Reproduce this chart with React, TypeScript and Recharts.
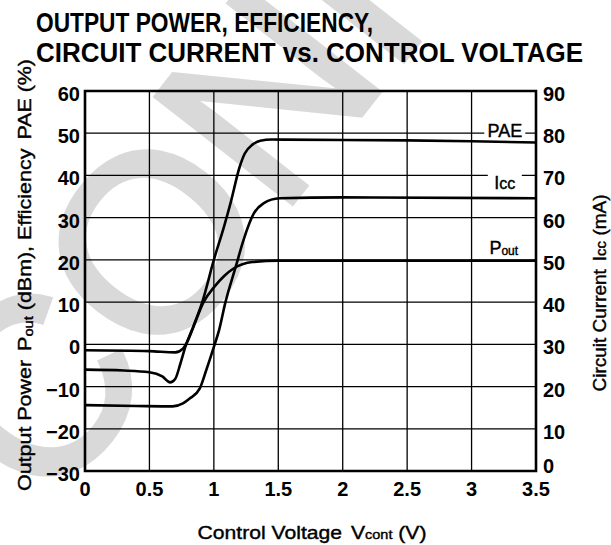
import React from 'react';
import {
  LineChart,
  Line,
  XAxis,
  YAxis,
  CartesianGrid,
  ReferenceArea,
  ReferenceDot,
} from 'recharts';

// control voltage ticks (V) and the two y scales
const voltageTicks = [0, 0.5, 1, 1.5, 2, 2.5, 3, 3.5];
const leftTicks = [-30, -20, -10, 0, 10, 20, 30, 40, 50, 60];
const rightTicks = [0, 10, 20, 30, 40, 50, 60, 70, 80, 90];

// PAE (%)
const paeVcont = [0, 0.3, 0.5, 0.6, 0.66, 0.7, 0.74, 0.78, 0.84, 0.91, 1.0, 1.08, 1.13, 1.2, 1.24, 1.3, 1.36, 1.45, 2.0, 2.5, 3.0, 3.5];
const paeValues = [-6.0, -6.2, -6.6, -7.6, -9.0, -8.2, -4.6, -0.5, 4.2, 10, 20, 28, 33.5, 42, 45.2, 47.3, 48.2, 48.5, 48.4, 48.3, 48.1, 47.8];

// Pout (dBm)
const poutVcont = [0, 0.5, 0.7, 0.76, 0.8, 0.84, 0.92, 1.0, 1.08, 1.15, 1.3, 1.5, 2.0, 3.5];
const poutValues = [-1.4, -1.6, -1.9, -1.0, 1.0, 4.0, 10, 13.5, 16.2, 17.9, 19.5, 19.8, 19.8, 19.8];

// Icc (mA)
const iccVcont = [0, 0.4, 0.68, 0.76, 0.81, 0.89, 0.94, 1.0, 1.04, 1.09, 1.17, 1.23, 1.31, 1.385, 1.51, 2.0, 3.5];
const iccValues = [15.6, 15.4, 15.3, 16.0, 17.1, 19.5, 23.8, 29.4, 33.3, 40, 48.4, 54.7, 61, 63.4, 64.6, 64.8, 64.6];

const toPoints = (xs: number[], ys: number[]) => xs.map((v, i) => ({ v, y: ys[i] }));
const paeData = toPoints(paeVcont, paeValues);
const poutData = toPoints(poutVcont, poutValues);
const iccData = toPoints(iccVcont, iccValues);

const FONT = '"Liberation Sans", Arial, Helvetica, sans-serif';
const fmt = (n: number) => (n < 0 ? `\u2212${Math.abs(n)}` : String(n));

// eslint-disable-next-line @typescript-eslint/no-explicit-any
const LeftTick = ({ x, y, payload }: any) => (
  <text x={x} y={y} dy={10} textAnchor="end" fontSize={20} fontWeight="bold" fontFamily={FONT} fill="#000">
    {fmt(payload.value)}
  </text>
);

// eslint-disable-next-line @typescript-eslint/no-explicit-any
const RightTick = ({ x, y, payload }: any) => (
  <text x={x} y={y} dy={payload.value === 0 ? 2 : 10} textAnchor="start" fontSize={20} fontWeight="bold" fontFamily={FONT} fill="#000">
    {payload.value}
  </text>
);

// eslint-disable-next-line @typescript-eslint/no-explicit-any
const BottomTick = ({ x, y, payload }: any) => (
  <text x={x} y={y} dy={25} textAnchor="middle" fontSize={20} fontWeight="bold" fontFamily={FONT} fill="#000">
    {payload.value}
  </text>
);

// label on white box, placed at a data point
const curveLabel = (kind: 'pae' | 'icc' | 'pout', w: number, h: number) =>
  // eslint-disable-next-line @typescript-eslint/no-explicit-any
  (p: any) => (
    <g>
      <rect x={p.cx - w / 2} y={p.cy - h / 2} width={w} height={h} fill="#fff" />
      <text x={p.cx} y={p.cy + 6} textAnchor="middle" fontSize={18} fontFamily={FONT} fill="#000" stroke="#000" strokeWidth={0.4}>
        {kind === 'pae' && 'PAE'}
        {kind === 'icc' && (
          <>
            I<tspan fontSize={16}>cc</tspan>
          </>
        )}
        {kind === 'pout' && (
          <>
            P<tspan fontSize={12} dy={1}>out</tspan>
          </>
        )}
      </text>
    </g>
  );

const textStyle = { fontFamily: FONT, fill: '#000', stroke: '#000', strokeWidth: 0.4 };

export default function App() {
  return (
    <div style={{ position: 'absolute', left: 0, top: 0, width: 611, height: 545, background: '#fff' }}>
      <svg width={611} height={545} style={{ position: 'absolute', left: 0, top: 0 }}>
        <text
          x={49}
          y={514}
          transform="rotate(-52 49 514)"
          fontSize={250}
          fontFamily={FONT}
          fill="#d9d9d9"
          stroke="#d9d9d9"
          strokeWidth={6}
        >
          CONFIDENTIAL
        </text>
        <text x={36} y={32} fontSize={27} fontWeight="bold" fontFamily={FONT} textLength={337} lengthAdjust="spacingAndGlyphs">
          OUTPUT POWER, EFFICIENCY,
        </text>
        <text x={36} y={62} fontSize={27} fontWeight="bold" fontFamily={FONT} textLength={547} lengthAdjust="spacingAndGlyphs">
          CIRCUIT CURRENT vs. CONTROL VOLTAGE
        </text>
        <text
          x={31}
          y={275}
          transform="rotate(-90 31 275)"
          textAnchor="middle"
          fontSize={19}
          textLength={432}
          lengthAdjust="spacingAndGlyphs"
          style={textStyle}
        >
          Output Power<tspan dx={8}>P</tspan>
          <tspan fontSize={13} dy={2}>out</tspan>
          <tspan dy={-2}> (dBm), Efficiency</tspan>
          <tspan dx={8}>PAE (%)</tspan>
        </text>
        <text
          x={606}
          y={293}
          transform="rotate(-90 606 293)"
          textAnchor="middle"
          fontSize={19}
          textLength={197}
          lengthAdjust="spacingAndGlyphs"
          style={textStyle}
        >
          Circuit Current<tspan dx={8}>I</tspan>
          <tspan fontSize={15}>cc</tspan>
          <tspan> (mA)</tspan>
        </text>
        <text
          x={312}
          y={539}
          textAnchor="middle"
          fontSize={19}
          textLength={229}
          lengthAdjust="spacingAndGlyphs"
          style={textStyle}
        >
          Control Voltage<tspan dx={8}>V</tspan>
          <tspan fontSize={13}>cont</tspan>
          <tspan> (V)</tspan>
        </text>
      </svg>
      <div style={{ position: 'absolute', left: 0, top: 0 }}>
        <LineChart width={611} height={545} margin={{ top: 91, right: 0, bottom: 0, left: 0 }}>
          <CartesianGrid yAxisId="left" stroke="#000" strokeWidth={1.3} />
          <XAxis
            dataKey="v"
            type="number"
            domain={[0, 3.5]}
            ticks={voltageTicks}
            height={74}
            tickSize={0}
            tickMargin={0}
            axisLine={false}
            tickLine={false}
            tick={<BottomTick />}
            allowDuplicatedCategory={false}
          />
          <YAxis
            yAxisId="left"
            domain={[-30, 60]}
            ticks={leftTicks}
            width={85}
            tickSize={0}
            tickMargin={5}
            axisLine={false}
            tickLine={false}
            tick={<LeftTick />}
          />
          <YAxis
            yAxisId="right"
            orientation="right"
            domain={[0, 90]}
            ticks={rightTicks}
            width={75}
            tickSize={0}
            tickMargin={7}
            axisLine={false}
            tickLine={false}
            tick={<RightTick />}
          />
          <ReferenceArea
            yAxisId="left"
            x1={0}
            x2={3.5}
            y1={-30}
            y2={60}
            fill="none"
            stroke="#000"
            strokeWidth={2.6}
          />
          <Line data={paeData} dataKey="y" yAxisId="left" type="monotone" stroke="#000" strokeWidth={2.6} dot={false} isAnimationActive={false} />
          <Line data={poutData} dataKey="y" yAxisId="left" type="monotone" stroke="#000" strokeWidth={2.6} dot={false} isAnimationActive={false} />
          <Line data={iccData} dataKey="y" yAxisId="right" type="monotone" stroke="#000" strokeWidth={2.6} dot={false} isAnimationActive={false} />
          <ReferenceDot yAxisId="left" x={3.258} y={50.6} r={0} shape={curveLabel('pae', 41, 15)} />
          <ReferenceDot yAxisId="right" x={3.258} y={68.2} r={0} shape={curveLabel('icc', 34, 19)} />
          <ReferenceDot yAxisId="left" x={3.25} y={22.8} r={0} shape={curveLabel('pout', 34, 16)} />
        </LineChart>
      </div>
    </div>
  );
}
